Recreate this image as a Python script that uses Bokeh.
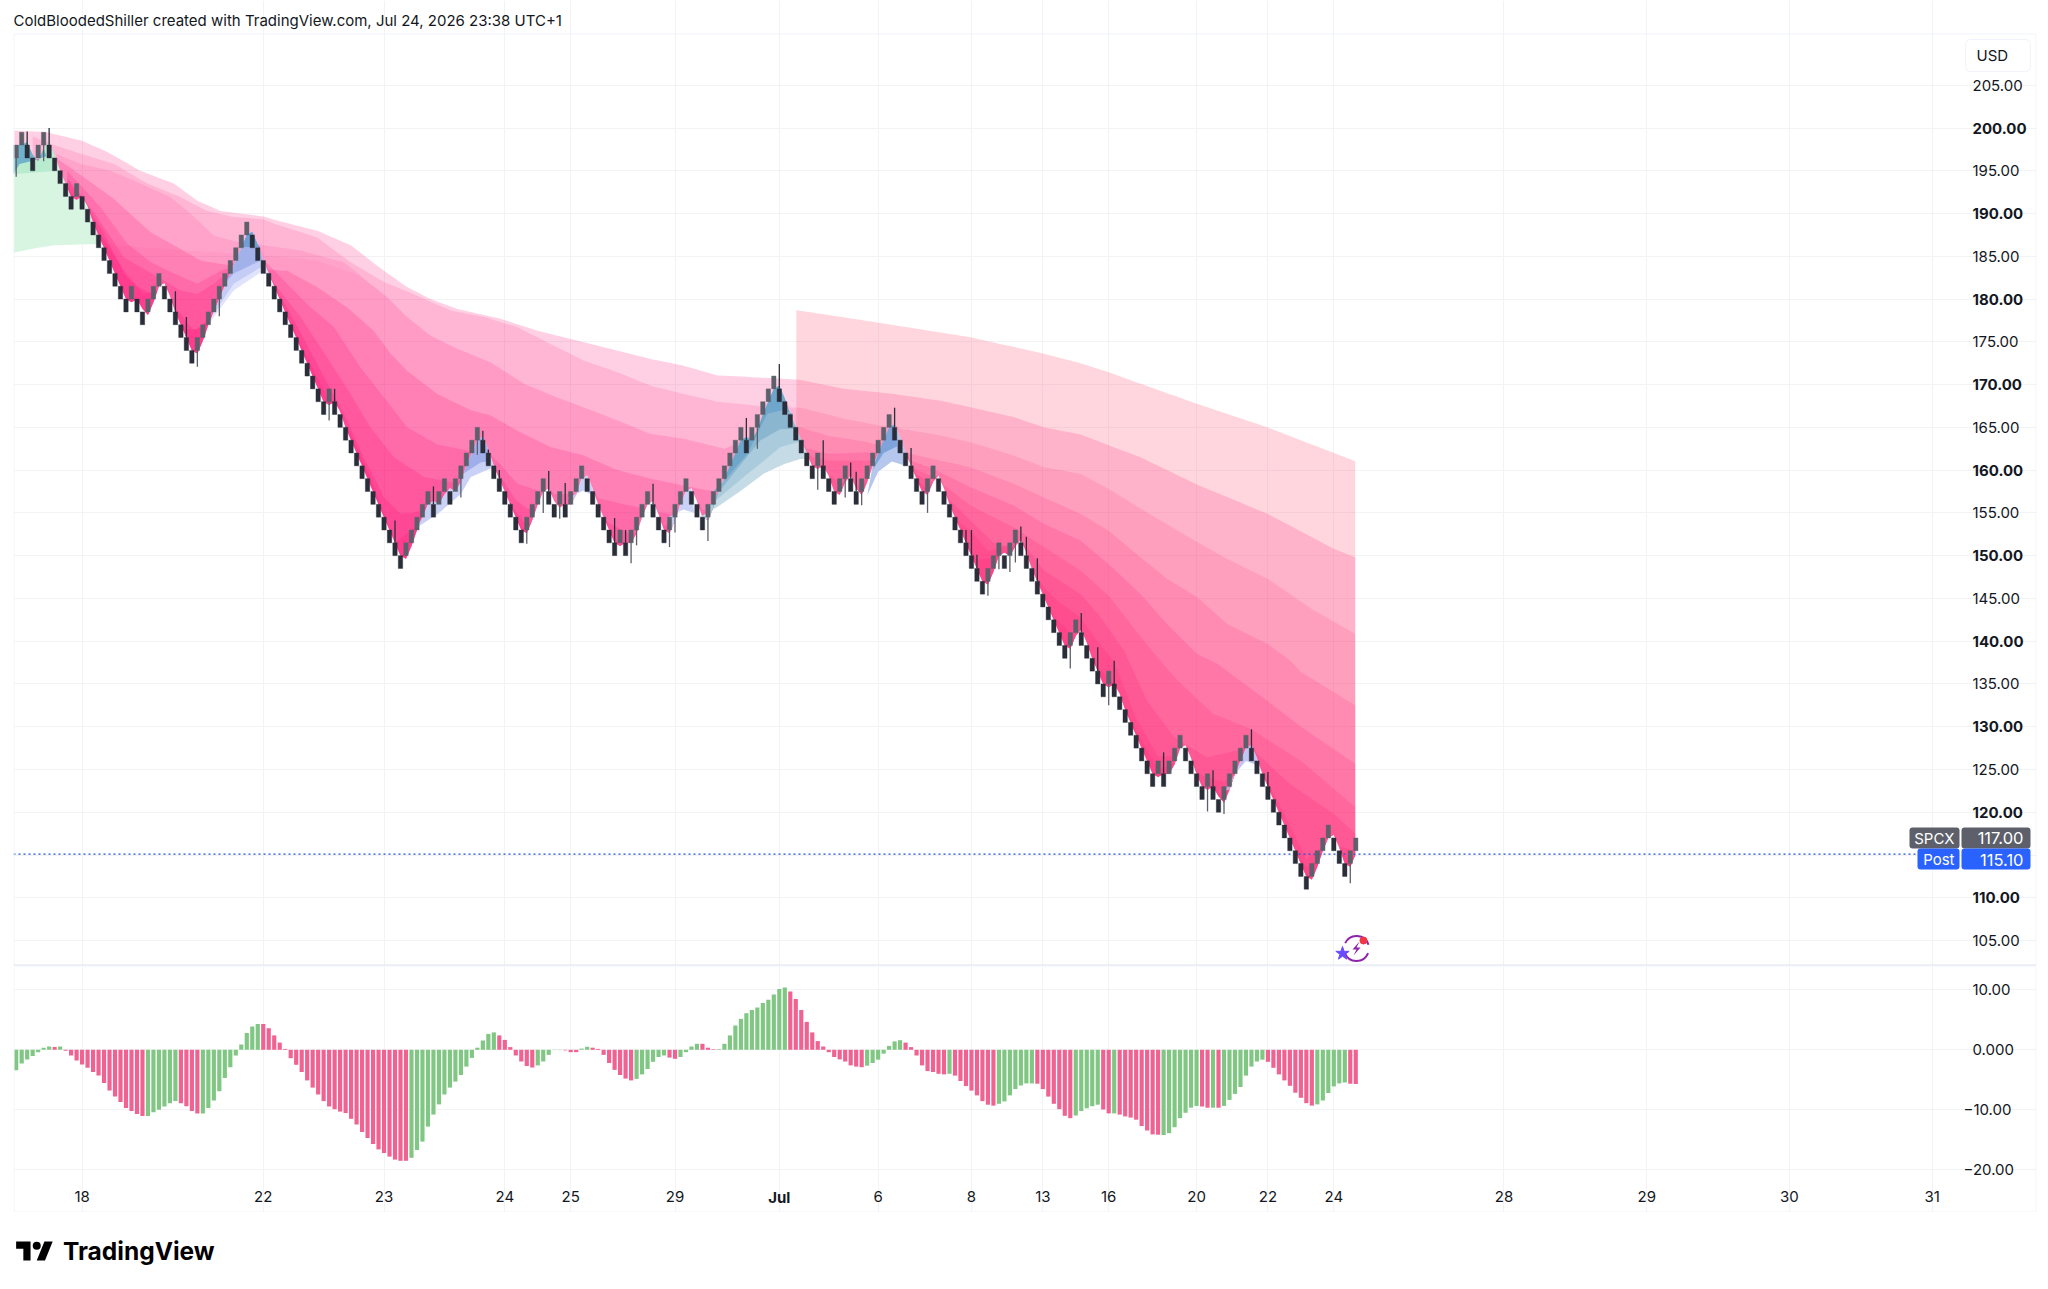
from bokeh.plotting import figure
from bokeh.layouts import column
from bokeh.models import (Range1d, FixedTicker, LinearAxis, Label, BoxAnnotation)
from bokeh.embed import file_html
from bokeh.resources import INLINE

closes = [198,199.5,196.5,195,198,199.5,196.5,195,193.5,192,190.5,193.5,190.5,189,187.5,186,184.5,183,181.5,180,
178.5,181.5,178.5,177,180,181.5,183,180,178.5,177,175.5,174,172.5,175.5,177,178.5,180,181.5,183,184.5,
186,187.5,189,186,184.5,183,181.5,180,178.5,177,175.5,174,172.5,171,169.5,168,166.5,169.5,166.5,165,
163.5,162,160.5,159,157.5,156,154.5,153,151.5,150,148.5,151.5,153,154.5,156,157.5,154.5,157.5,159,156,
159,160.5,162,163.5,165,162,160.5,159,157.5,156,154.5,153,151.5,154.5,156,157.5,159,156,154.5,157.5,
154.5,157.5,159,160.5,157.5,156,154.5,153,151.5,150,153,150,153,154.5,156,157.5,154.5,153,151.5,154.5,
156,157.5,159,156,154.5,153,156,157.5,159,160.5,162,163.5,165,162,165,166.5,168,169.5,171,168,
166.5,165,163.5,162,160.5,159,162,159,157.5,156,159,160.5,157.5,156,159,160.5,162,163.5,165,166.5,
163.5,162,160.5,159,157.5,156,159,160.5,157.5,156,154.5,153,151.5,150,148.5,147,145.5,148.5,150,151.5,
148.5,151.5,153,150,148.5,147,145.5,144,142.5,141,139.5,138,141,142.5,139.5,138,136.5,135,133.5,136.5,
133.5,132,130.5,129,127.5,126,124.5,123,126,123,126,127.5,129,126,124.5,123,121.5,124.5,121.5,120,
123,124.5,126,127.5,129,126,124.5,123,121.5,120,118.5,117,115.5,114,112.5,111,114,115.5,117,118.5,
115.5,114,112.5,115.5,117]

wick_bars = [0,2,5,6,29,31,33,37,57,58,69,76,81,84,85,86,88,90,93,96,97,99,100,109,111,112,113,116,119,120,126,133,135,139,146,147,151,152,153,154,160,163,166,173,174,175,177,179,181,182,183,184,186,192,194,197,199,200,209,217,218,220,225,228,243]
wick_vals = [194.3,199.6,196.1,200,180.9,177.9,172.1,178,165.8,169.5,154.1,158.1,156.8,161.8,164.6,162.4,160,156.1,151.4,155,159.9,154.3,158.5,154.4,153,149.1,151.2,158.4,151,152.7,151.7,166.1,162.5,172.4,157.7,163.5,156.8,160.9,159.8,155.9,167.3,162.6,155,153,153,150.1,145.3,148.4,148.1,149.2,153.4,152.2,149.7,136.8,143.3,139.3,132.5,137.7,127,120.1,124.9,119.8,129.7,124.7,111.7]

hist = [-3.4,-2.3,-1.6,-1.05,-0.4,0.33,0.55,0.45,0.55,-0.15,-0.95,-1.8,-2.45,-3,-3.7,-4.3,-5.55,-6.8,-7.8,-8.7,
-9.7,-10.2,-10.7,-11.05,-11.05,-10.4,-10,-9.45,-8.9,-8.55,-8.9,-9.4,-10.2,-10.6,-10.6,-9.7,-8.45,-6.9,-4.7,-2.9,
-0.95,0.9,2.8,3.9,4.3,4.3,3.6,2.4,1.2,0.15,-1.4,-2.5,-3.7,-5.1,-6.3,-7.45,-8.55,-9.45,-9.9,-10.3,
-10.55,-11.5,-12.45,-13.7,-14.7,-15.7,-16.6,-17.2,-17.8,-18.3,-18.5,-18.5,-18,-16.7,-15.3,-12.8,-10.8,-9.1,-7.45,-6.3,
-5.3,-4.2,-2.8,-1.35,0.35,1.55,2.65,2.9,2.4,1.65,0.45,-0.95,-1.95,-2.7,-2.95,-2.6,-1.95,-0.85,-0.05,-0.05,
-0.1,-0.4,-0.4,0.2,0.5,0.35,0.15,-0.85,-2.2,-3.35,-4.2,-4.8,-5.1,-4.85,-4.1,-3.2,-2,-1.2,-0.95,-1.3,
-1.5,-1.2,-0.4,0.55,1,1,0.35,0.1,0.1,1,2.4,4.05,5.15,6.1,6.65,7.05,7.8,8.35,9.2,10.15,
10.4,9.7,8.45,6.65,4.65,2.9,1.45,0.55,-0.4,-1.2,-1.6,-1.95,-2.6,-2.8,-2.9,-2.65,-2.2,-1.65,-0.65,0.65,
1.4,1.6,1.2,0.45,-0.95,-2.6,-3.55,-3.7,-4,-4.1,-4,-4.3,-5.2,-6.05,-6.8,-7.6,-8.55,-9.15,-9.3,-9,
-8.6,-7.6,-6.55,-5.95,-5.6,-5.6,-5.65,-6.55,-7.8,-9,-9.9,-11,-11.4,-10.95,-10.2,-9.75,-9.4,-9.15,-9.95,-10.6,
-10.6,-10.8,-11.1,-11.3,-11.65,-12.7,-13.45,-14.1,-14.15,-14.2,-13.9,-12.9,-11.4,-10.5,-9.65,-9.35,-9.45,-9.65,-9.65,-9.65,
-9.35,-8.35,-7.35,-6.2,-4.3,-2.8,-1.95,-1.65,-2,-3,-4.1,-5.1,-6,-7.15,-8,-8.9,-9.3,-9.1,-8.45,-7.2,
-6.1,-5.6,-5.45,-5.65,-5.7]
hist_runs = [7,1,1,15,6,4,11,27,16,7,5,3,2,8,6,2,4,3,13,14,7,8,1,8,7,7,5,2,1,8,7,2,1,1,8,9,6,2]

time_ticks = [12,45,67,89,101,120,139,157,174,187,199,215,228,240,271,297,323,349]
time_labels = ["18","22","23","24","25","29","Jul","6","8","13","16","20","22","24","28","29","30","31"]

price_minor = [105,115,125,135,145,155,165,175,185,195,205]
price_major = [110,120,130,140,150,160,170,180,190,200]
osc_pos = [10,0]
osc_pos_labels = ["10.00","0.000"]
osc_neg = [-10,-20]
osc_neg_labels = ["\u221210.00","\u221220.00"]
post_price = 115.1

# ribbon lines: bar position, price
coat_x = [142.1,154.4,173.8,187.2,193.86,199,204.8,215.1,227.9,243.9]
coat_y = [178.7,177.5,175.54,173.6,172.5,171.45,170.1,167.75,165,161.04]
l1_x = [-0.4,5.6,12,16.6,22.6,28.7,33,37.2,45.1,47.5,54.8,60.9,67,71.2,75.5,80.3,88.2,94.9,103.4,115.5,121.6,127.7,137.8,142.9,150.8,159.9,168.4,173.8,181.7,187.2,193.86,199,204.8,215.1,227.9,240,243.9]
l1_y = [199.7,199.5,198.5,197.2,195,193.5,191.5,190.3,189.65,189.18,188,186.3,183.3,181.4,180,178.85,177.7,176.3,174.95,173,172.2,171.07,170.75,170.55,169.5,168.9,168.1,167.36,166.2,165,164.16,162.9,161.5,158.3,154.9,150.8,149.8]
l2_x = [3,6.2,11.7,17.8,23.9,29.3,34.8,39.6,45.1,47,54.8,60.9,67,73,79.1,85.2,91.3,97.3,103.4,109.5,115.5,119,127.7,137,142.9,150.8,157.4,167.2,173.8,181.7,187.2,193.86,199,204.8,215.1,220,227.9,236.4,243.9]
l2_y = [199,198.15,197,195.8,193.5,192.1,190.3,189.6,189.3,188.8,187.2,184.3,182,180.4,178.66,177.9,176.7,174.75,172.8,171.45,169.9,169.3,168,167.4,167.3,166,165.2,164.2,163.27,161.7,160.34,159.56,157.8,155.5,151.6,149.8,147.3,143.6,140.85]
# wedge between the upper line and the long line on the left
wedge_x = [7.2,11.7,17.2,22.6,28.1,31.75,36,39.6,45.1,51.8,59.7,62.7]
wedge_y = [196.98,195.8,195,193.5,191.9,190,187.4,186.8,186.3,185.67,184.3,182.75]
l3_x = [14.8,27.5,39.6,45.1,54.8,62.7,67.6,71.2,75.5,80.3,86.4,92.5,98.5,106.4,115.5,121.6,129,137,142.9,148,155,163,167,173.8,181.7,187.2,193.86,199,204.8,209.6,215.1,220.6,227.9,232.1,234,243.9]
l3_y = [186.38,185.87,185.3,185.1,184.5,182.7,180.2,177.9,175.7,174.2,172.6,170.1,168.5,166.6,164.25,163.66,162.5,164.6,165,164,163.3,161.9,161.3,160.34,158.4,156.8,154.9,152.9,149.8,147.3,145.15,142,139.7,137.7,136.4,132.5]
l4_x = [7.5,12.3,17.8,24.5,28.7,33.6,37.2,43.9,49.4,54.8,60.3,65.1,68.2,71.2,76.7,82.8,86.4,91.3,97.3,103.4,109.5,115.5,124.6,130,135,140,143,148,155,163,167,173.8,181.7,187.2,193.86,199,204.8,209.6,215.1,218.8,227.9,234,243.9]
l4_y = [196.4,194.25,191.7,187.8,186.3,184.5,184.1,183.5,183.3,181.4,179,176.3,173.6,171.6,168.9,167,166.4,164.6,162.7,161.7,160,159,157.8,157.2,159.6,161.5,162.7,161.9,162.1,161.1,160.15,158,155.86,153.7,151.77,149,145.5,142,138.5,137.35,133,130,125.66]
l5_x = [9.3,15.4,20.2,24.5,28.7,33,37.2,40.9,46,48.1,53,57.9,62.7,67,71.2,76.7,82.1,85.2,87.6,91.3,97,103,110.7,121.6,128,132,136,140,143,148,155,160,163,167,173.8,181.7,187.2,193.86,199,205.4,208.4,211.5,218,224.8,234,243.9]
l5_y = [195,190.7,186.5,184.3,183,181.8,183.3,184.1,184,182.6,179.4,176.7,172,168.5,165,163,162.3,162.1,161.1,158.4,157.2,157.2,156,154.5,156,158.2,160.2,161.2,161.8,161.1,161.1,161.5,160.3,159.2,155.86,153.3,151,148.26,145.3,140,137.7,135.4,131.5,129.75,126,120.6]
l6_x = [9.3,14.75,19.6,25.7,29.9,33,36,39.6,44,47.5,51.8,56.6,60.9,64.5,68.8,74.3,80,85,88,91,93,97,103,108,112,118,125,128,132,136,140,146,150,153,155,158,160,163,167,173.8,178,181,184,187.2,193.86,197.5,201.8,206,210.9,216.9,224.8,232,240,243.9]
l6_y = [194.2,189.6,184.9,182.6,181,180.6,181.8,183.7,184.2,181.4,177.9,173.2,168.9,165,161.5,159.2,158.5,160.5,159.5,156.5,155.5,155.5,156.5,153.8,152.5,153.5,154.5,156,158.2,160.2,161.2,160.5,158.5,158,159,161,161.3,159.8,158.4,154.1,151.5,151,151,148.25,145.5,142.8,138.9,133,128.8,126.4,127.6,123.3,119.8,117.5]
l7_x = [9.6,15.4,19.6,23.2,25.7,29.9,32.4,34.2,36.6,39.6,42,45.1,46.9,50.6,54.8,59.7,63.3,67,70,72,76,80,84,87,90,93,96,100,104,108,111,114,117,119,122,125,127,132,136,140,143,146,149,152,154,157,160,163,166,169,172,173.8,177,182,185,187.2,190,193.86,196.9,199.9,204,208,212,216,220,224,228,232,235,238,241,243.9]
l7_y = [193.7,188.4,183,180.6,181,178.3,176.3,177,179,181.8,182.5,183.2,181.8,177.5,172.4,166.6,161.5,156.8,154.9,155,155.5,157,160,160,156,153.5,155,155.5,156.5,152.5,151,153,152.8,152.5,155,153.5,155,158.2,160.2,161.2,162,160,157,158,157.5,161,161.5,159.3,157.8,156.5,153.8,152.9,150.5,151.5,148.3,146.3,144.5,142.8,140,137.7,131,126.5,126.7,124.3,123.5,126.5,123.5,118.5,114.5,116,116,115.5]
l8_x = [8,12,16,20,22,25,28,31,33,36,38,42,45,46.3,48.75,52.4,56,60.9,64.5,67,69,72,76,80,84,87,90,93,96,100,104,108,111,114,117,119,122,125,127,132,136,140,143,146,149,152,154,157,160,163,166,169,172,175,178,182,185,188,192,196,200,204,208,212,216,220,224,228,232,235,238,241,243.9]
l8_y = [194.5,190.5,187,183,181.5,180.5,178.5,176.5,176.5,178,180,182.5,183.2,182.5,179,174,169.3,164.2,159.2,154.9,151.5,153,155,156.8,159.5,159,155.5,152.5,154.5,155,156,151.8,150.6,152.8,152,152,154.8,153.3,155,158.2,160.2,161.2,162,159.5,156.5,157.7,157.3,160,161,158.8,156.8,155.8,152.5,149.5,149.8,150.7,147.5,143.5,141,137.5,135,129.5,125,126,123,122,126,122.5,116.5,113.5,115,115,114.5]
layer_alpha = [0.21,0.15,0.18,0.22,0.22,0.24,0.28,0.29]

# blue / green areas under the fast line
green_x = [-0.5,3.2,6.9,15]
green_y = [185.4,185.9,186.3,186.45]
green2_x = [-0.5,7.5]
green2_y = [194.6,195]
teal_x = [-0.5,0.6,3.2,5.5]
teal_y = [194.6,195.8,196.2,196.7]
hump1 = [([34.8,36,39.6,44.5,46],[176.7,177.9,181,183.1,182.8],"#dfe3fb"),
         ([35.5,36.6,39.6,44.5,45.8],[178,178.9,181.8,183.7,183.3],"#c5ccf5"),
         ([38,39.6,44.5,45.5],[181.8,183,184.5,184.2],"#a3b1ea"),
         ([40,41,44,44.5],[186,186.1,186.1,186],"#6f9fd6")]
hump2 = [([73,77,81,82.8,86.4,87],[153.3,155,157.2,159.2,160.2,160],"#c9d2f6"),
         ([80.5,81.5,84.6,86.4],[158,159.6,160.9,161.1],"#a0aeea")]
hump3 = [([100.5,103.3,105.2],[156.8,157.6,157],"#c9d2f6")]
hump4 = [([118.5,121.5,123.5],[154.4,155.4,155],"#c9d2f6")]
hump5 = [([124.5,127.7,132,136.2,139.8,142.8,144],[154.5,155.7,157.6,159.6,160.7,161.3,161.3],"#c5dbe6"),
         ([125.5,127.7,132.5,136.2,139.2,142.5,143.5],[155.5,156.6,159.2,161.1,162.7,163.3,163],"#a9cbdb"),
         ([126.5,127.7,132,135.6,139.2,142.5],[156.7,157.2,160.7,163.5,164.8,164.8],"#8bb6d0"),
         ([127,129,133.2,136.8,139.5,141.5],[157.5,158.8,161.9,166.6,167,166.6],"#6ea6cc")]
hump6 = [([155,157,159.5,162],[157,159.8,161,160.5],"#b6c7ee"),
         ([156,158,160.5],[160,162,162.8],"#7fa4dc")]
hump7 = [([220,222,224,226],[122.5,124.5,126,125.5],"#c2c6f7")]

# small icon, offsets in pixels from its centre
bolt_dx = [3,-4,0,-3,4,0]
bolt_dy = [-7,1,1,7,-1,-1]

GRID = "#f2f3f5"
DARK = "#131722"
FONT = "Inter"
PINK = "#ff1f7f"

def xd(a):
    return (a - 15.7) / 5.49

def yd(a):
    return 200 - (a - 127.5) / 8.553

def od(a):
    return (1049.3 - a) / 6

def bricks():
    tops, bots, cols = [], [], []
    for i, c in enumerate(closes):
        up = (i == 0) or c > closes[i - 1]
        o = c - 1.5 if up else c + 1.5
        tops.append(max(o, c)); bots.append(min(o, c)); cols.append("#5d606b" if up else "#2a2e39")
    return tops, bots, cols

tops, bots, cols = bricks()
# the ribbon's lower edge rides on the bricks
fast = [closes[0], closes[0]] + [(closes[i - 2] + 2 * closes[i - 1] + closes[i]) / 4 for i in range(2, len(closes))]

def along(xs, ys, x):
    # height of a drawn polyline at x, used only to trim one area against another
    if x <= xs[0]:
        return ys[0]
    for k in range(1, len(xs)):
        if x <= xs[k]:
            t = (x - xs[k - 1]) / (xs[k] - xs[k - 1])
            return ys[k - 1] + t * (ys[k] - ys[k - 1])
    return ys[-1]

all_bars = list(range(len(fast)))

def pink(p, xs, ys, color=PINK, alpha=0.22):
    a, b = int(xs[0]) + 1, min(int(xs[-1]), 243)
    bars = list(range(a, b + 1))
    stops = sorted(set(list(xs) + bars))
    upper = [max(along(xs, ys, x), along(all_bars, fast, x)) for x in stops]
    lower = [along(all_bars, fast, x) for x in stops]
    p.patch(stops + stops[::-1], upper + lower[::-1], fill_color=color, fill_alpha=alpha, line_alpha=0)

def under(p, xs, ys, color):
    a, b = max(int(xs[0]) + 1, 0), int(xs[-1])
    bars = list(range(a, b + 1))
    lead_x = [xs[0]] if xs[0] < 0 else []
    lead_y = [fast[0]] if xs[0] < 0 else []
    p.patch(lead_x + bars + list(xs)[::-1], lead_y + [fast[i] for i in bars] + list(ys)[::-1],
            fill_color=color, line_alpha=0)

def box(p, yconv, l, r, t, b, fill=None, line=None, radius=0, lw=1):
    # l, r, t, b are page pixels
    p.add_layout(BoxAnnotation(left=xd(l), right=xd(r), top=yconv(t), bottom=yconv(b), fill_color=fill,
                               fill_alpha=1 if fill else 0, line_color=line, line_alpha=1 if line else 0,
                               line_width=lw, border_radius=radius))

def flat_axis(ticks, overrides, standoff, style="normal"):
    return LinearAxis(ticker=FixedTicker(ticks=ticks), axis_line_color=None, major_tick_line_color=None,
                      major_tick_out=0, major_tick_in=0, minor_tick_out=0, minor_tick_in=0,
                      minor_tick_line_color=None, major_label_standoff=standoff, major_label_text_font=FONT,
                      major_label_text_font_size="15px", major_label_text_font_style=style,
                      major_label_text_color=DARK, major_label_overrides=overrides)

p = figure(frame_width=2023, frame_height=965, min_border_left=13, min_border_right=12, min_border_top=0,
           min_border_bottom=1, output_backend="svg", toolbar_location=None,
           x_range=Range1d(xd(13), xd(2036)), y_range=Range1d(yd(965), yd(0)),
           background_fill_color="white", border_fill_color="white", outline_line_color=None)
p.xaxis.visible = False
p.yaxis.visible = False
p.xgrid.ticker = FixedTicker(ticks=time_ticks)
p.ygrid.ticker = FixedTicker(ticks=price_minor + price_major)
p.xgrid.bounds = (yd(965), yd(33))
p.ygrid.bounds = (xd(13), xd(1960))
p.xgrid.grid_line_color = GRID
p.ygrid.grid_line_color = GRID

under(p, green_x, green_y, "#d8f5e1")
under(p, green2_x, green2_y, "#b9ebcf")
under(p, teal_x, teal_y, "#6fb2c9")
lines = [(l1_x, l1_y), (l2_x, l2_y), (l3_x, l3_y), (l4_x, l4_y), (l5_x, l5_y), (l6_x, l6_y), (l7_x, l7_y), (l8_x, l8_y)]
for (xs, ys), a in zip(lines, layer_alpha):
    pink(p, xs, ys, alpha=a)
wedge_bars = list(range(14, 7, -1))
p.patch(wedge_x + l3_x[5::-1] + wedge_bars, wedge_y + l3_y[5::-1] + [fast[i] for i in wedge_bars],
        fill_color=PINK, fill_alpha=0.12, line_alpha=0)
for hump in (hump1, hump2, hump3, hump4, hump5, hump6, hump7):
    for xs, ys, color in hump:
        under(p, xs, ys, color)
pink(p, coat_x, coat_y, color="#ff5c7a", alpha=0.25)

p.segment(xd(13), post_price, xd(1917), post_price, line_color="#1f4fd8", line_width=1.1, line_dash="2 3")

for i, v in zip(wick_bars, wick_vals):
    p.segment(i, tops[i] if v > tops[i] else bots[i], i, v, line_color=cols[i], line_width=1.3)
p.vbar(x=list(range(len(closes))), width=0.8, top=tops, bottom=bots, fill_color=cols, line_color=cols, line_width=0.4)

# icon
icon_x, icon_y = xd(1356), yd(948)
p.arc(x=[icon_x], y=[icon_y], radius=12.5, radius_units="screen", start_angle=0.3, end_angle=2.7, line_color="#8e24aa", line_width=2)
p.arc(x=[icon_x], y=[icon_y], radius=12.5, radius_units="screen", start_angle=3.5, end_angle=5.9, line_color="#8e24aa", line_width=2)
p.patch([icon_x + d / 5.49 for d in bolt_dx], [icon_y - d / 8.553 for d in bolt_dy], fill_color="#8e24aa", line_alpha=0)
p.scatter(x=[xd(1342)], y=[yd(953)], marker="star", size=14, fill_color="#6a4cff", line_color="#6a4cff")
p.scatter(x=[xd(1363)], y=[yd(940)], marker="circle", size=7, fill_color="#f23645", line_color="#f23645")

# price scale furniture
box(p, yd, 13.5, 2035.5, 33.5, 965, line="#f0f3fa")
box(p, yd, 13, 2036, 964, 966, fill="#e0e3eb")
box(p, yd, 1965, 2030, 39, 71, fill="white", line="#f0f3fa", radius=5)
box(p, yd, 1909, 1959, 827, 848, fill="#5d606b", radius=3)
box(p, yd, 1961, 2030, 827, 848, fill="#5d606b", radius=3)
box(p, yd, 1917, 1959, 848, 869, fill="#2962ff", radius=3)
box(p, yd, 1961, 2030, 848, 869, fill="#2962ff", radius=3)

def lab(fig, text, x, y, size, color=DARK, style="normal", align="left", font=FONT):
    fig.add_layout(Label(x=xd(x), y=yd(y), text=text, text_font=font,
                         text_font_size=size, text_color=color, text_font_style=style, text_align=align,
                         text_baseline="middle"))

lab(p, "ColdBloodedShiller created with TradingView.com, Jul 24, 2026 23:38 UTC+1", 13, 19.5, "15px")
lab(p, "USD", 1976, 55, "15px")
lab(p, "SPCX", 1954, 837.5, "15px", color="white", align="right")
lab(p, "117.00", 2023, 837.5, "16.5px", color="white", align="right")
lab(p, "Post", 1954, 859, "15px", color="white", align="right")
lab(p, "115.10", 2023, 859, "16.5px", color="white", align="right")

p.add_layout(flat_axis(price_major, {v: f"{v:.2f}" for v in price_major}, -64, "bold"), "right")
p.add_layout(flat_axis(price_minor, {v: f"{v:.2f}" for v in price_minor}, -64), "right")

q = figure(frame_width=2023, frame_height=246, min_border_left=13, min_border_right=12, min_border_top=0,
           min_border_bottom=0, output_backend="svg", toolbar_location=None,
           x_range=Range1d(xd(13), xd(2036)), y_range=Range1d(od(1212), od(966)),
           background_fill_color="white", border_fill_color="white", outline_line_color=None)
q.yaxis.visible = False
q.xaxis.visible = False
q.xgrid.ticker = FixedTicker(ticks=time_ticks)
q.ygrid.ticker = FixedTicker(ticks=osc_pos + osc_neg)
q.xgrid.bounds = (od(1177), od(966))
q.ygrid.bounds = (xd(13), xd(1960))
q.xgrid.grid_line_color = GRID
q.ygrid.grid_line_color = GRID

time_axis = flat_axis([t for t, l in zip(time_ticks, time_labels) if l != "Jul"],
                      {t: l for t, l in zip(time_ticks, time_labels) if l != "Jul"}, -22)
q.add_layout(time_axis, "below")
q.add_layout(flat_axis([139], {139: "Jul"}, -25, "bold"), "below")
q.add_layout(flat_axis(osc_neg, dict(zip(osc_neg, osc_neg_labels)), -73), "right")
q.add_layout(flat_axis(osc_pos, dict(zip(osc_pos, osc_pos_labels)), -64), "right")

colors = []
for n, run in enumerate(hist_runs):
    colors += ["#81c784" if n % 2 == 0 else "#f06292"] * run
q.vbar(x=list(range(len(hist))), width=0.76, top=hist, bottom=0, fill_color=colors, line_color=None)
box(q, od, 13.5, 2035.5, 966, 1211.5, line="#f0f3fa")

# footer: logo outline in its own 36-by-28 drawing units
logo_t_x = [14,7,7,0,0,14]
logo_t_y = [22,22,11,11,4,4]
logo_s_x = [28,20,27.5,35.5]
logo_s_y = [22,22,4,4]
f = figure(frame_width=2048, frame_height=68, min_border=0, output_backend="svg", toolbar_location=None,
           x_axis_location=None, y_axis_location=None,
           x_range=Range1d(-2.55, 1985.8), y_range=Range1d(41.1, -23.6), outline_line_color=None,
           background_fill_color="white", border_fill_color="white")
f.grid.visible = False
f.patch(logo_t_x, logo_t_y, fill_color="#000000", line_alpha=0)
f.patch(logo_s_x, logo_s_y, fill_color="#000000", line_alpha=0)
f.scatter(x=[20], y=[8], size=8, marker="circle", fill_color="#000000", line_alpha=0)
f.add_layout(Label(x=45.5, y=13, text="TradingView", text_font=FONT, text_font_size="24.5px", text_font_style="bold",
                   text_color="#000000", text_baseline="middle"))

page = column(p, q, f, spacing=0)
open("out.html", "w").write(file_html(page, INLINE))
